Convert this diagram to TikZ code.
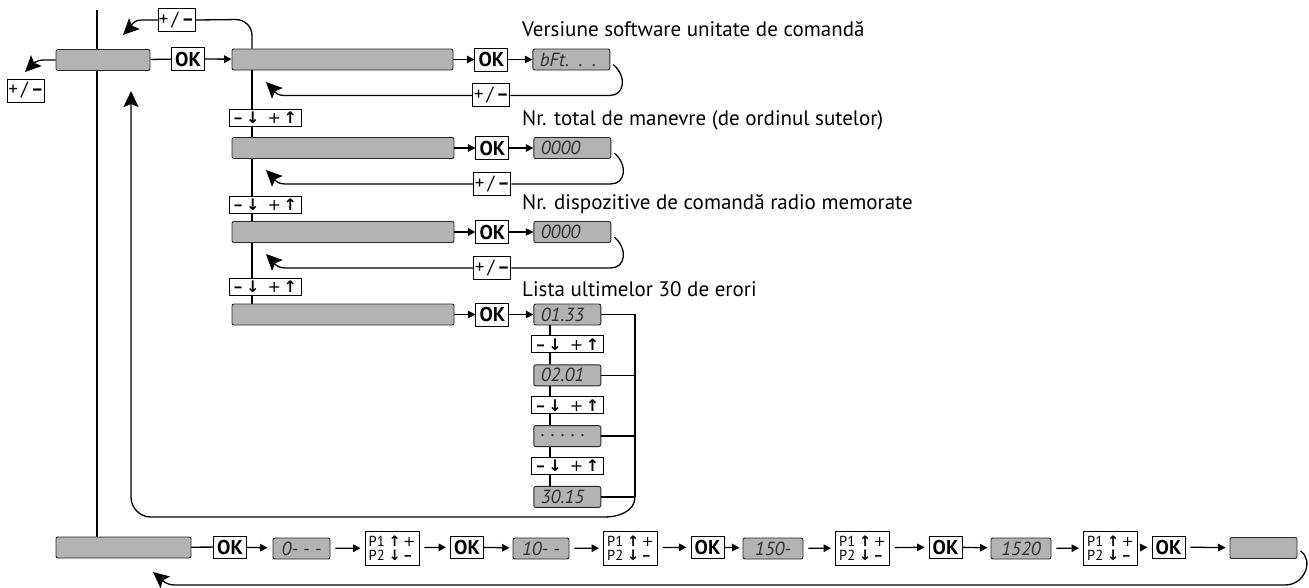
\documentclass[tikz,border=0pt]{standalone}
\usepackage{xcolor}
\usepackage{fontspec}
\setmainfont{PT Sans}
\newfontfamily\arrowfont{DejaVu Sans}
\usepackage{tikz}
\usetikzlibrary{arrows.meta, positioning, calc}

\definecolor{lcdgray}{HTML}{B3B3B3}
\definecolor{lcdtext}{HTML}{303030}
\newcommand{\pmtext}{+\,/\,\textbf{–}}
\newcommand{\updown}{\textbf{–}\,{\arrowfont\bfseries ↓}\enspace{\arrowfont +}\,{\arrowfont\bfseries ↑}}
\newcommand{\ptext}{P1 {\arrowfont\bfseries ↑}\,{\arrowfont +}\\P2 {\arrowfont\bfseries ↓}\,\textbf{–}}

\begin{document}
\begin{tikzpicture}[x=1pt, y=1pt,
    panel/.style={rectangle, draw=black!85, fill=lcdgray, rounded corners=2pt, line width=0.9pt, minimum height=21pt, inner sep=0pt},
    lcd/.style={panel, text=lcdtext, font=\itshape\fontsize{19}{19}\selectfont},
    lcdleft/.style={lcd, inner xsep=7pt, align=left},
    key/.style={rectangle, draw, fill=white, line width=0.9pt, inner sep=0pt, minimum height=23pt, font=\fontsize{19}{19}\selectfont},
    okkey/.style={key, minimum width=33pt, font=\bfseries\fontsize{20}{20}\selectfont},
    pmkey/.style={key, minimum width=37pt},
    stepkey/.style={key, minimum width=72pt, minimum height=17pt, font=\fontsize{16}{16}\selectfont},
    pkey/.style={key, minimum width=54pt, minimum height=34pt, align=left, font=\fontsize{14.5}{13.5}\selectfont},
    caption/.style={anchor=base west, inner sep=0pt, font=\fontsize{21}{21}\selectfont},
    link/.style={line width=1.3pt},
    flow/.style={link, -{Triangle[length=7.5pt,width=7.5pt]}},
    bflow/.style={flow, shorten <=5pt, shorten >=4pt},
    back/.style={link, -{Stealth[length=16pt,width=15pt,inset=3pt]}}
]
\useasboundingbox (0,0) rectangle (1309,-587);

% main menu
\node[panel, minimum width=94pt] (menu) at (103,-60) {};
\node[okkey] (ok0) at (188,-59) {OK};
\node[pmkey] (pmL) at (26,-90.5) {\pmtext};
\node[pmkey] (pmT) at (176.5,-20) {\pmtext};
\coordinate (tipL) at (25,-72);
\coordinate (tipT) at (123,-35);
\coordinate (vtop) at (97,-10);
\coordinate (spine) at (252,0);

% sub menu rows
\node[panel, minimum width=221pt] (sw) at (342.5,-59.5) {};
\node[panel, minimum width=222pt] (cnt) at (343,-148) {};
\node[panel, minimum width=222pt] (rad) at (343,-232) {};
\node[panel, minimum width=222pt] (err) at (343,-314.5) {};

\node[stepkey] (k1) at (265,-117.5) {\updown};
\node[stepkey] (k2) at (265,-205) {\updown};
\node[stepkey] (k3) at (265,-286.5) {\updown};

\node[okkey, right=21pt of sw] (oksw) {OK};
\node[okkey, right=21pt of cnt] (okcnt) {OK};
\node[okkey, right=21pt of rad] (okrad) {OK};
\node[okkey, right=21pt of err] (okerr) {OK};

\node[lcdleft, minimum width=77pt, text width=63pt, right=24pt of oksw] (dsw) {bFt. . .};
\node[lcdleft, minimum width=77pt, text width=63pt, right=24pt of okcnt] (dcnt) {0000};
\node[lcdleft, minimum width=77pt, text width=63pt, right=24pt of okrad] (drad) {0000};

\node[pmkey, below=12pt of oksw] (pmsw) {\pmtext};
\node[pmkey, below=12pt of okcnt] (pmcnt) {\pmtext};
\node[pmkey, below=12pt of okrad] (pmrad) {\pmtext};
\coordinate (rsw) at (266,-82);
\coordinate (rcnt) at (266,-170);
\coordinate (rrad) at (266,-254);

\node[caption] (lsw) at (522,-36) {Versiune software unitate de comandă};
\node[caption] (lcnt) at (522,-125) {Nr. total de manevre (de ordinul sutelor)};
\node[caption] (lrad) at (522,-209) {Nr. dispozitive de comandă radio memorate};
\node[caption] (lerr) at (522,-296) {Lista ultimelor 30 de erori};

% error list
\node[lcdleft, minimum width=67pt, text width=53pt, right=24pt of okerr] (e1) {01.33};
\node[stepkey, below=10pt of e1] (ek1) {\updown};
\node[lcdleft, minimum width=67pt, text width=53pt, below=11pt of ek1] (e2) {02.01};
\node[stepkey, below=10pt of e2] (ek2) {\updown};
\node[lcdleft, minimum width=67pt, text width=53pt, below=11pt of ek2] (e3) {.\hspace{6pt}.\hspace{6pt}.\hspace{6pt}.\hspace{6pt}.};
\node[stepkey, below=10pt of e3] (ek3) {\updown};
\node[lcdleft, minimum width=67pt, text width=53pt, below=11pt of ek3] (e4) {30.15};
\coordinate (elink) at (550,0);
\coordinate (rail) at (635,0);
\coordinate (tipE) at (131,-91);

% bottom row
\node[panel, minimum width=135pt] (base) at (123.5,-547.5) {};
\node[okkey, minimum height=22pt] (bok1) at (230,-547) {OK};
\node[lcd, minimum width=57pt] (bd1) at (301.5,-548.5) {0- - -};
\node[pkey] (bp1) at (392,-548) {\ptext};
\node[okkey, minimum height=22pt] (bok2) at (467,-547) {OK};
\node[lcd, minimum width=56pt] (bd2) at (541,-548.5) {10- -};
\node[pkey] (bp2) at (630.5,-548) {\ptext};
\node[okkey, minimum height=22pt] (bok3) at (707.5,-547) {OK};
\node[lcd, minimum width=60pt] (bd3) at (773,-548.5) {150-};
\node[pkey] (bp3) at (862.5,-548) {\ptext};
\node[okkey, minimum height=22pt] (bok4) at (945.5,-547) {OK};
\node[lcd, minimum width=60pt] (bd4) at (1021,-548.5) {1520};
\node[pkey] (bp4) at (1110.5,-548) {\ptext};
\node[okkey, minimum height=22pt] (bok5) at (1168.5,-547) {OK};
\node[panel, minimum width=67pt] (bend) at (1263.5,-548) {};
\coordinate (tipB) at (153,-572);

% connectors main menu
\draw[link] (vtop) -- (vtop |- menu.north);
\draw[link] (menu.south -| vtop) -- (base.north -| vtop);
\draw[link] (menu) -- (ok0);
\draw[flow] (ok0) -- (sw);
\draw[back] (menu.west) -- ++(-12,0) to[out=180,in=45] (tipL);
\draw[link] (sw.north -| spine) -- ++(0,13) to[out=90,in=0] ++(-16,16) -- (pmT.east);
\draw[back] (pmT.west) -- ++(-16,0) to[out=180,in=45] (tipT);

% spine
\draw[link] (sw.south -| spine) -- (k1.north -| spine);
\draw[link] (k1.south -| spine) -- (cnt.north -| spine);
\draw[link] (cnt.south -| spine) -- (k2.north -| spine);
\draw[link] (k2.south -| spine) -- (rad.north -| spine);
\draw[link] (rad.south -| spine) -- (k3.north -| spine);
\draw[link] (k3.south -| spine) -- (err.north -| spine);

% rows
\draw[flow] (sw) -- (oksw);
\draw[flow] (oksw) -- (dsw);
\draw[flow] (cnt) -- (okcnt);
\draw[flow] (okcnt) -- (dcnt);
\draw[flow] (rad) -- (okrad);
\draw[flow] (okrad) -- (drad);
\draw[flow] (err) -- (okerr);
\draw[flow] (okerr) -- (e1);

\draw[link] ($(dsw.east)+(3,-5)$) .. controls +(14,-12) and +(14,0) .. (pmsw.east -| dsw.east) -- (pmsw.east);
\draw[back] (pmsw.west) -- ++(-189,0) to[out=180,in=-45] (rsw);
\draw[link] ($(dcnt.east)+(3,-5)$) .. controls +(14,-12) and +(14,0) .. (pmcnt.east -| dcnt.east) -- (pmcnt.east);
\draw[back] (pmcnt.west) -- ++(-189,0) to[out=180,in=-45] (rcnt);
\draw[link] ($(drad.east)+(3,-5)$) .. controls +(14,-12) and +(14,0) .. (pmrad.east -| drad.east) -- (pmrad.east);
\draw[back] (pmrad.west) -- ++(-189,0) to[out=180,in=-45] (rrad);

% error list
\draw[link] (e1.south -| elink) -- (ek1.north -| elink);
\draw[link] (ek1.south -| elink) -- (e2.north -| elink);
\draw[link] (e2.south -| elink) -- (ek2.north -| elink);
\draw[link] (ek2.south -| elink) -- (e3.north -| elink);
\draw[link] (e3.south -| elink) -- (ek3.north -| elink);
\draw[link] (ek3.south -| elink) -- (e4.north -| elink);
\draw[link] (e1.east) -- (e1.east -| rail) -- (e4.east -| rail);
\draw[link] (e2.east) -- (e2.east -| rail);
\draw[link] (e3.east) -- (e3.east -| rail);
\draw[link] (e4.east) -- (e4.east -| rail);
\draw[back] (e4.east -| rail) to[out=-90,in=0] (605,-517) -- (151,-517) to[out=180,in=-90] (tipE |- 0,-497) -- (tipE);

% bottom row
\draw[link] (base) -- (bok1);
\draw[flow, shorten >=5pt] (bok1) -- (bd1);
\draw[bflow] (bd1) -- (bp1);
\draw[bflow] (bp1) -- (bok2);
\draw[flow, shorten >=3pt] (bok2) -- (bd2);
\draw[bflow] (bd2) -- (bp2);
\draw[bflow] (bp2) -- (bok3);
\draw[flow, shorten >=3pt] (bok3) -- (bd3);
\draw[bflow] (bd3) -- (bp3);
\draw[bflow] (bp3) -- (bok4);
\draw[flow, shorten >=3pt] (bok4) -- (bd4);
\draw[bflow] (bd4) -- (bp4);
\draw[bflow] (bp4) -- (bok5);
\draw[bflow] (bok5) -- (bend);
\draw[back] ($(bend.east)+(3,-3)$) .. controls (1314,-560) and (1305,-585) .. (1285,-585) -- (175,-585) to[out=180,in=-40] (tipB);
\end{tikzpicture}
\end{document}
